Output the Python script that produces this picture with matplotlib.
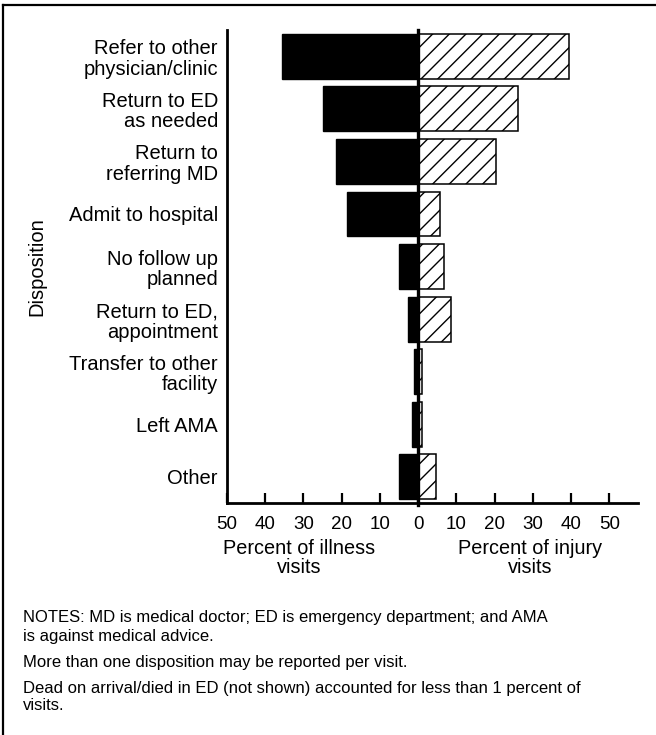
import matplotlib
matplotlib.use("Agg")
import matplotlib.pyplot as plt
from matplotlib.lines import Line2D

plt.rcParams['font.family'] = ['Liberation Sans', 'DejaVu Sans']

dispositions = ['Refer to other\nphysician/clinic', 'Return to ED\nas needed', 'Return to\nreferring MD',
                'Admit to hospital', 'No follow up\nplanned', 'Return to ED,\nappointment',
                'Transfer to other\nfacility', 'Left AMA', 'Other']
illness = [35.5, 25.0, 21.5, 18.5, 5.0, 2.7, 1.2, 1.6, 5.0]
injury = [39.5, 26.2, 20.3, 5.8, 6.7, 8.6, 0.9, 0.9, 4.7]
ticks = [-50, -40, -30, -20, -10, 0, 10, 20, 30, 40, 50]
tick_labels = ['50', '40', '30', '20', '10', '0', '10', '20', '30', '40', '50']
notes = ['NOTES: MD is medical doctor; ED is emergency department; and AMA\nis against medical advice.',
         'More than one disposition may be reported per visit.',
         'Dead on arrival/died in ED (not shown) accounted for less than 1 percent of\nvisits.']

fig = plt.figure(figsize=(6.56, 7.35), dpi=100)
ax = fig.add_axes([0.346, 0.3156, 0.6265, 0.6435])

pos = list(range(len(dispositions)))
ax.barh(pos, [-v for v in illness], height=0.855, color='black', edgecolor='black')
ax.barh(pos, injury, height=0.855, color='white', edgecolor='black', hatch='//', linewidth=1.1)
ax.axvline(0, color='black', lw=2.4, ymin=-0.004, clip_on=False)

ax.set_xlim(-50, 57.5)
ax.set_ylim(8.5, -0.5)
ax.set_xticks(ticks)
ax.set_xticklabels(tick_labels, fontsize=13.5)
ax.set_yticks(pos)
ax.set_yticklabels(dispositions, fontsize=14.5, linespacing=1.1)
ax.tick_params(axis='x', direction='in', length=7, width=1.6, pad=9)
ax.tick_params(axis='y', length=0, pad=6.5)

for s in ['top', 'right']:
    ax.spines[s].set_visible(False)
for s in ['left', 'bottom']:
    ax.spines[s].set_linewidth(2)

ax.set_ylabel('Disposition', fontsize=14.5)
ax.yaxis.set_label_coords(-0.44, 0.5)

fig.text(299 / 656, 1 - 539 / 735, 'Percent of illness\nvisits', ha='center', va='top',
         fontsize=14.3, multialignment='center', linespacing=1.0)
fig.text(530 / 656, 1 - 539 / 735, 'Percent of injury\nvisits', ha='center', va='top',
         fontsize=14.3, multialignment='center', linespacing=1.0)

fig.text(23 / 656, 1 - 610 / 735, notes[0], va='top', fontsize=12, linespacing=1.35)
fig.text(23 / 656, 1 - 655 / 735, notes[1], va='top', fontsize=12, linespacing=1.2)
fig.text(23 / 656, 1 - 681 / 735, notes[2], va='top', fontsize=12, linespacing=1.15)

# frame of the original figure (left and top edges visible)
fig.add_artist(Line2D([3 / 656, 3 / 656], [0, 1 - 5 / 735], color='black', lw=1.6))
fig.add_artist(Line2D([3 / 656, 1], [1 - 5 / 735, 1 - 5 / 735], color='black', lw=1.6))

fig.savefig('out.png', dpi=100)
